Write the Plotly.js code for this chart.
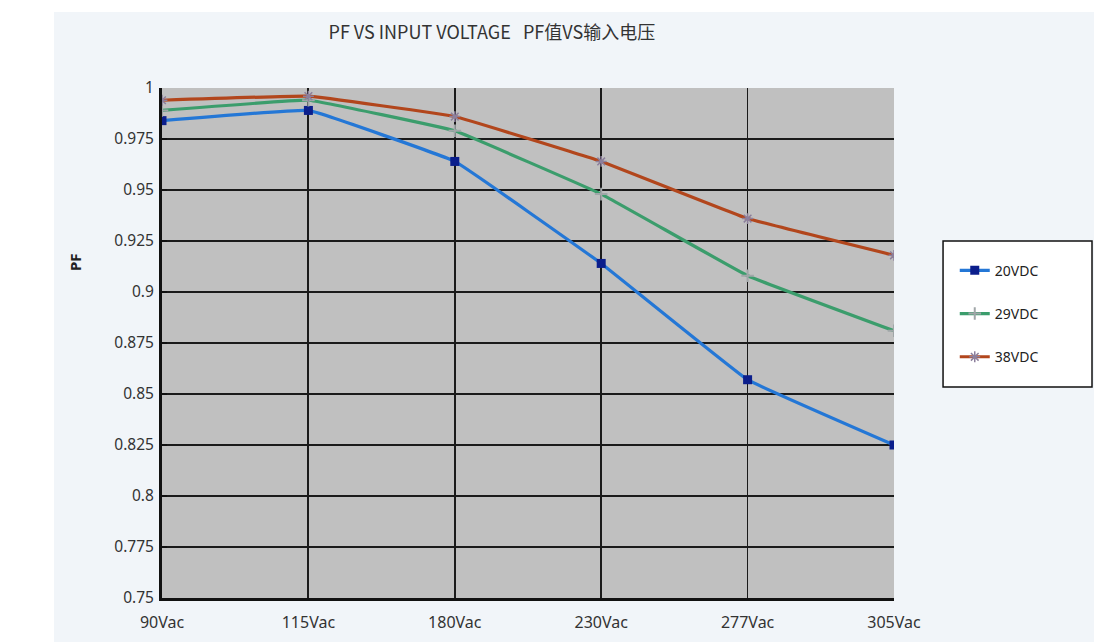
<!DOCTYPE html>
<html>
<head>
<meta charset="utf-8">
<script src="https://cdn.plot.ly/plotly-3.0.1.min.js"></script>
<style>
  html, body { margin: 0; padding: 0; background: #ffffff; }
  #chart { position: absolute; left: 54px; top: 12px; width: 1040px; height: 630px; }
</style>
</head>
<body>
<div id="chart"></div>
<script>
const categories = ['90Vac', '115Vac', '180Vac', '230Vac', '277Vac', '305Vac'];
const pf20VDC = [0.984, 0.989, 0.964, 0.914, 0.857, 0.825];
const pf29VDC = [0.989, 0.994, 0.979, 0.948, 0.908, 0.881];
const pf38VDC = [0.994, 0.996, 0.986, 0.964, 0.936, 0.918];
const seriesNames = ['20VDC', '29VDC', '38VDC'];
const yTickVals = [0.75, 0.775, 0.8, 0.825, 0.85, 0.875, 0.9, 0.925, 0.95, 0.975, 1];
const yTickText = ['0.75', '0.775', '0.8', '0.825', '0.85', '0.875', '0.9', '0.925', '0.95', '0.975', '1'];

const traces = [
  {
    x: categories, y: pf20VDC, name: seriesNames[0], legendgroup: 'a',
    type: 'scatter', mode: 'lines+markers',
    line: { color: '#2477d6', width: 3.2, shape: 'spline', smoothing: 0.2 },
    marker: { symbol: 'square', size: 9, color: '#0b1e8c' }
  },
  {
    x: categories, y: pf29VDC, name: seriesNames[1], legendgroup: 'b',
    type: 'scatter', mode: 'lines+markers',
    line: { color: '#3b9d6c', width: 3.2, shape: 'spline', smoothing: 0.2 },
    marker: { symbol: 'cross-thin-open', size: 9, color: '#a0a6a8', line: { color: '#a0a6a8', width: 2 } }
  },
  {
    x: categories, y: pf38VDC, name: seriesNames[2], legendgroup: 'c',
    type: 'scatter', mode: 'lines+markers',
    line: { color: '#b2461c', width: 3.2, shape: 'spline', smoothing: 0.2 },
    marker: { symbol: 'asterisk-open', size: 9, color: '#8c7f9c', line: { color: '#8c7f9c', width: 1.5 } }
  }
];

const layout = {
  width: 1040, height: 630, autosize: false,
  margin: { l: 108, r: 200, t: 76, b: 44, pad: 0 },
  paper_bgcolor: '#f1f5f9',
  plot_bgcolor: '#c0c0c0',
  font: { family: '"Noto Sans", "DejaVu Sans", sans-serif', size: 15, color: '#333333' },
  title: {
    text: 'PF VS INPUT VOLTAGE   PF值VS输入电压',
    font: { family: '"Noto Sans CJK SC", sans-serif', size: 18, color: '#333333' },
    xref: 'container', x: 0.421, xanchor: 'center',
    yref: 'container', y: 0.967, yanchor: 'middle'
  },
  xaxis: {
    type: 'category', range: [0, 5],
    showgrid: true, gridcolor: '#1a1a1a', gridwidth: 1.8,
    showline: true, linecolor: '#111111', linewidth: 3,
    ticks: '', ticklabelstandoff: 8,
    tickfont: { size: 16, color: '#333333' },
    zeroline: false, fixedrange: true
  },
  yaxis: {
    range: [0.75, 1], tickvals: yTickVals, ticktext: yTickText,
    showgrid: true, gridcolor: '#1a1a1a', gridwidth: 1.8,
    showline: true, linecolor: '#111111', linewidth: 3,
    ticks: 'inside', ticklen: 5, tickwidth: 2, tickcolor: '#111111',
    ticklabelstandoff: 2,
    tickfont: { size: 15.5, color: '#333333' },
    zeroline: false, fixedrange: true
  },
  showlegend: true,
  legend: {
    x: 1.083, y: 0.673, xanchor: 'left', yanchor: 'top',
    bgcolor: 'rgba(0,0,0,0)', borderwidth: 0,
    tracegroupgap: 22,
    font: { family: '"Noto Sans", sans-serif', size: 14, color: '#222222' }
  },
  shapes: [
    {
      type: 'rect', xref: 'paper', yref: 'paper', layer: 'below',
      x0: 1.067, x1: 1.2705, y0: 0.4137, y1: 0.7,
      fillcolor: '#ffffff', line: { color: '#111111', width: 1.5 }
    }
  ],
  annotations: [
    {
      text: '<b>PF</b>', xref: 'paper', yref: 'paper',
      x: -0.1189, y: 0.6588, xanchor: 'center', yanchor: 'middle',
      textangle: -90, showarrow: false,
      font: { family: '"Noto Sans", sans-serif', size: 15, color: '#222222' }
    }
  ]
};

Plotly.newPlot('chart', traces, layout, { displayModeBar: false, staticPlot: true });
</script>
</body>
</html>
